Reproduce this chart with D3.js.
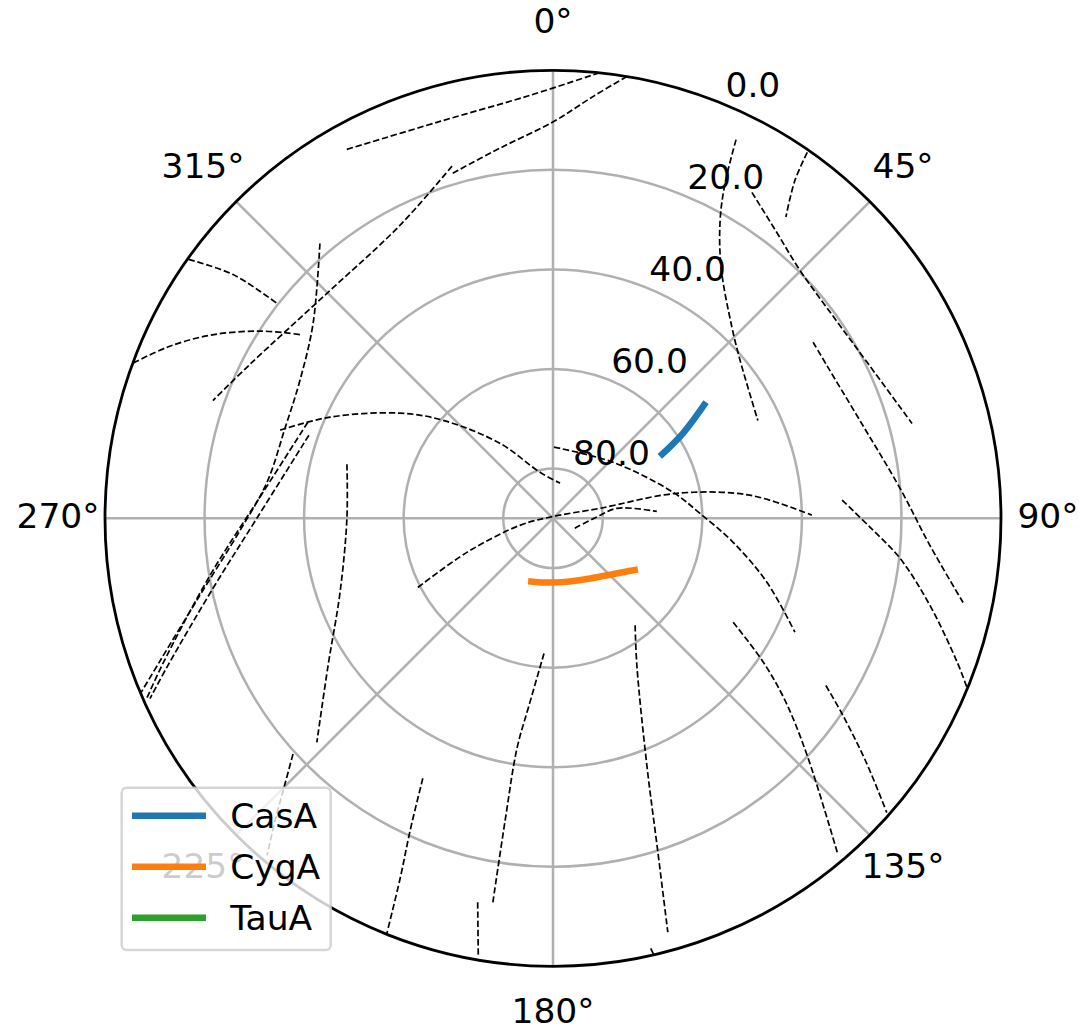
<!DOCTYPE html>
<html>
<head>
<meta charset="utf-8">
<script src="https://cdn.jsdelivr.net/npm/d3@7"></script>
<style>
  body { margin: 0; background: #fff; }
  svg { display: block; }
  text { font-family: "DejaVu Sans", sans-serif; }
</style>
</head>
<body>
<svg id="chart" width="1079" height="1028"></svg>
<script>
// Sky tracks as [azimuth (deg, N=0, clockwise), altitude (deg)]
const sources = ["CasA", "CygA", "TauA"];
const sourceColors = ["#1f77b4", "#ff7f0e", "#2ca02c"];
const casA = [[59.9, 65.2], [56.8, 58.8], [52.8, 51.4]];
const cygA = [[201.6, 76.4], [187.1, 77.0], [169.3, 77.0], [148.3, 75.8], [131.8, 73.3], [121.0, 70.1]];
const tauA = [];

// Background object tracks (dashed)
const track01 = [[330.8, 5.1], [344.1, 7.1], [356.9, 4.9], [5.8, 0.1]];
const track02 = [[343.8, 17.8], [351.8, 14.9], [0.1, 10.3], [5.5, 4.8], [9.5, 0.0]];
const track03 = [[344.0, 16.4], [332.4, 23.6], [314.4, 25.9], [296.9, 21.7], [289.1, 17.7]];
const track04 = [[305.4, 0.2], [307.3, 9.2], [307.9, 19.7]];
const track05 = [[290.3, 0.1], [293.9, 5.2], [298.1, 11.9], [302.6, 20.2], [306.0, 27.2]];
const track06 = [[319.7, 17.6], [309.1, 27.9], [298.6, 32.1], [288.6, 33.2], [277.2, 32.1], [267.8, 27.1], [257.7, 17.4], [250.1, 6.1], [247.1, 0.2]];
const track07 = [[291.4, 37.1], [275.1, 31.5], [260.6, 20.2], [249.4, 6.1], [245.9, 0.4]];
const track08 = [[288.8, 38.2], [270.0, 30.5], [258.4, 20.3], [249.1, 7.2], [245.9, 1.3]];
const track09 = [[287.9, 32.4], [294.4, 40.8], [304.5, 52.7], [311.7, 60.4], [324.8, 71.6], [344.2, 80.4], [11.3, 82.8]];
const track10 = [[284.7, 47.2], [270.0, 48.6], [250.8, 44.7], [236.8, 36.0], [226.5, 24.6]];
const track11 = [[0.8, 75.7], [47.0, 73.5], [77.8, 65.3], [88.0, 60.5], [97.6, 53.5], [106.7, 45.1], [115.2, 36.3]];
const track12 = [[242.9, 59.5], [248.4, 71.4], [258.0, 83.2], [26.6, 89.55], [78.0, 80.35], [78.6, 64.6], [83.3, 50.2], [89.3, 38.0]];
const track13 = [[114.4, 85.2], [88.3, 81.2], [81.1, 77.0], [86.2, 69.1]];
const track14 = [[183.8, 62.8], [187.3, 52.1], [188.9, 43.2], [189.0, 28.6], [188.9, 11.9]];
const track15 = [[142.5, 62.9], [150.3, 56.0], [159.2, 36.9], [162.5, 20.1], [164.5, 3.7]];
const track16 = [[206.6, 31.6], [204.6, 21.1], [203.0, 11.4], [201.8, 0.0]];
const track17 = [[191.1, 11.4], [189.7, 0.9]];
const track18 = [[167.2, 1.4], [167.0, 0.0]];
const track19 = [[120.0, 48.2], [124.2, 39.2], [128.1, 30.8], [133.0, 20.2], [139.6, 1.9]];
const track20 = [[121.5, 25.7], [124.2, 19.6], [127.9, 10.3], [131.4, 0.6]];
const track21 = [[86.4, 31.8], [91.6, 26.3], [96.6, 19.8], [103.0, 12.3], [109.6, 3.8], [112.2, 0.2]];
const track22 = [[25.8, 5.5], [27.2, 14.4], [29.3, 21.4], [33.8, 29.3], [43.1, 37.4], [49.8, 40.8], [64.5, 44.4]];
const track23 = [[31.4, 13.3], [37.9, 17.0], [44.9, 19.7], [54.7, 20.6], [63.8, 19.5], [75.2, 15.4]];
const track24 = [[55.9, 26.9], [60.8, 27.0], [72.3, 25.3], [85.1, 20.0], [94.1, 14.1], [101.6, 5.9]];
const track25 = [[34.8, 0.5], [35.6, 6.5], [37.7, 13.5]];
const track26 = [[227.8, 19.5], [225.0, 13.6], [222.6, 7.5], [220.3, 1.2]];

const thetaTicks = [0, 45, 90, 135, 180, 225, 270, 315];
const altTicks = [0, 20, 40, 60, 80];

const backgroundTracks = [track01, track02, track03, track04, track05, track06, track07,
  track08, track09, track10, track11, track12, track13, track14, track15, track16,
  track17, track18, track19, track20, track21, track22, track23, track24, track25, track26];
const sourceTracks = [casA, cygA, tauA];

// Layout
const cx = 553, cy = 518.3, R = 448;
const fontSize = 34.5;

const svg = d3.select("#chart");
const g = svg.append("g").attr("transform", `translate(${cx},${cy})`);

const rScale = d3.scaleLinear().domain([90, 0]).range([0, R]);
const aScale = d3.scaleLinear().domain([0, 360]).range([0, 2 * Math.PI]);

const radialLine = d3.lineRadial()
  .angle(d => aScale(d[0]))
  .radius(d => rScale(d[1]))
  .curve(d3.curveCatmullRom.alpha(0.5));

// Grid: altitude rings and azimuth spokes
g.selectAll("circle.ring")
  .data(altTicks.filter(a => a > 0))
  .join("circle")
  .attr("class", "ring")
  .attr("r", d => rScale(d))
  .attr("fill", "none")
  .attr("stroke", "#b0b0b0")
  .attr("stroke-width", 2.5);

g.selectAll("line.spoke")
  .data(thetaTicks)
  .join("line")
  .attr("class", "spoke")
  .attr("x1", 0).attr("y1", 0)
  .attr("x2", d => R * Math.sin(aScale(d)))
  .attr("y2", d => -R * Math.cos(aScale(d)))
  .attr("stroke", "#b0b0b0")
  .attr("stroke-width", 2.5);

// Dashed background tracks
g.selectAll("path.track")
  .data(backgroundTracks)
  .join("path")
  .attr("class", "track")
  .attr("d", radialLine)
  .attr("fill", "none")
  .attr("stroke", "#000")
  .attr("stroke-width", 1.7)
  .attr("stroke-dasharray", "6.4,2.8");

// Source tracks
g.selectAll("path.source")
  .data(sourceTracks)
  .join("path")
  .attr("class", "source")
  .attr("d", d => d.length ? radialLine(d) : null)
  .attr("fill", "none")
  .attr("stroke", (d, i) => sourceColors[i])
  .attr("stroke-width", 6.5);

// Horizon (outer spine)
g.append("circle")
  .attr("r", rScale(0))
  .attr("fill", "none")
  .attr("stroke", "#000")
  .attr("stroke-width", 2.8);

// Azimuth labels
const labelR = R + 47;
g.selectAll("text.theta")
  .data(thetaTicks)
  .join("text")
  .attr("class", "theta")
  .attr("x", d => labelR * Math.sin(aScale(d)))
  .attr("y", d => -labelR * Math.cos(aScale(d)) + 9.8)
  .attr("text-anchor", "middle")
  .attr("font-size", fontSize)
  .attr("fill", "#000")
  .text(d => d + "°");

// Altitude labels along 22.5°
const rLabelAngle = aScale(22.5);
g.selectAll("text.alt")
  .data(altTicks)
  .join("text")
  .attr("class", "alt")
  .attr("x", d => rScale(d) * Math.sin(rLabelAngle) + 1)
  .attr("y", d => -rScale(d) * Math.cos(rLabelAngle) - 7.5)
  .attr("font-size", fontSize)
  .attr("fill", "#000")
  .text(d => d.toFixed(1));

// Legend
const legend = svg.append("g").attr("transform", "translate(121.7,787.7)");
legend.append("rect")
  .attr("width", 209).attr("height", 162.3)
  .attr("rx", 5)
  .attr("fill", "#fff").attr("fill-opacity", 0.8)
  .attr("stroke", "#cccccc").attr("stroke-opacity", 0.8)
  .attr("stroke-width", 2.5);
const entries = legend.selectAll("g.entry")
  .data(sources)
  .join("g")
  .attr("class", "entry")
  .attr("transform", (d, i) => `translate(0,${28 + i * 51})`);
entries.append("line")
  .attr("x1", 10.3).attr("x2", 84.3)
  .attr("y1", 0).attr("y2", 0)
  .attr("stroke", (d, i) => sourceColors[i])
  .attr("stroke-width", 6.5);
entries.append("text")
  .attr("x", 108.5).attr("y", 12.3)
  .attr("font-size", fontSize)
  .attr("fill", "#000")
  .text(d => d);
</script>
</body>
</html>
